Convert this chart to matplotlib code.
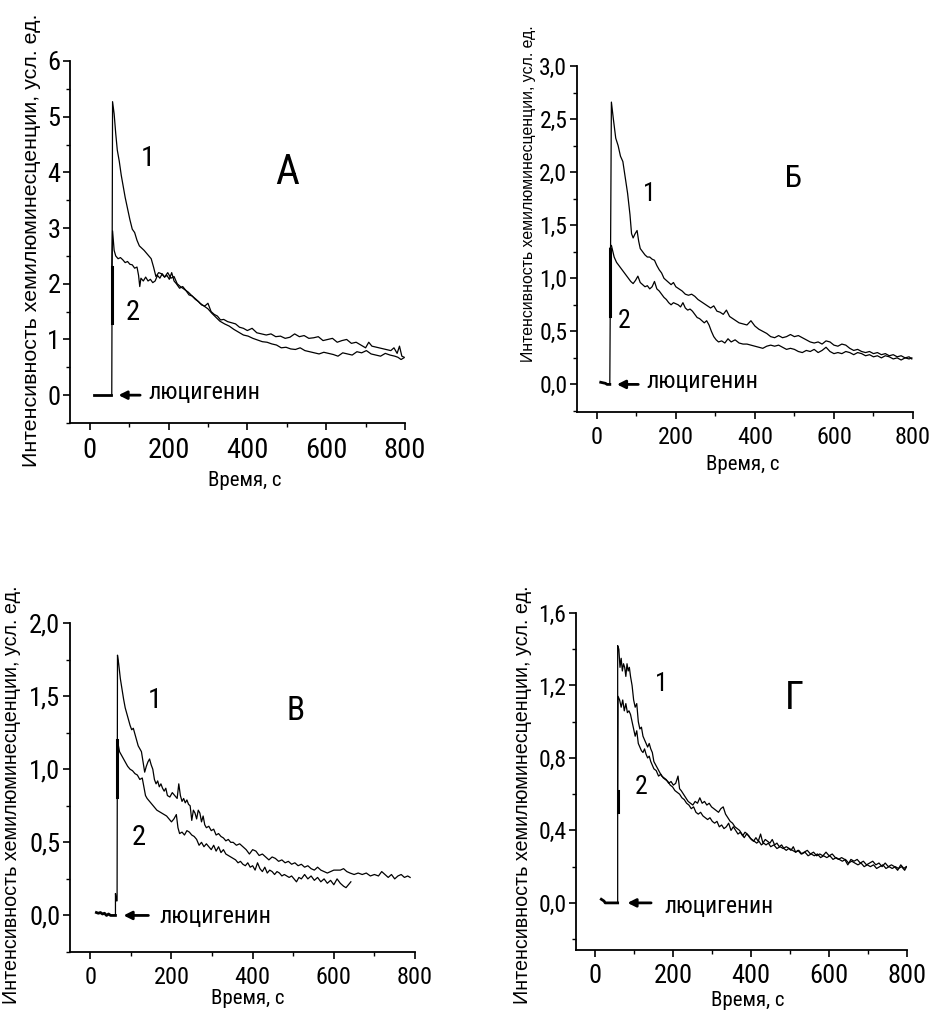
import numpy as np
import matplotlib.pyplot as plt
from matplotlib.ticker import MultipleLocator

NARROW = ['Roboto Condensed', 'PT Sans Narrow', 'DejaVu Sans']
WIDE = ['Liberation Sans', 'DejaVu Sans']

ylabel_text = 'Интенсивность хемилюминесценции, усл. ед.'
xlabel_text = 'Время, с'
arrow_text = 'люцигенин'
panel_letters = ['А', 'Б', 'В', 'Г']

# ---- panel A ----
base_A = [(11, 0.0), (30, 0.0), (53, 0.0)]
curve1_A = [(56, 0), (58, 5.27), (62, 5.05), (66, 4.7), (70, 4.4), (75, 4.2), (80, 3.95), (85, 3.75), (90, 3.55),
            (96, 3.35), (102, 3.15), (108, 2.98), (114, 2.92), (120, 2.78), (126, 2.68), (132, 2.64), (138, 2.6),
            (144, 2.55), (150, 2.5), (156, 2.45), (162, 2.3), (168, 2.13), (175, 2.2), (182, 2.18), (190, 2.12),
            (198, 2.2), (206, 2.1), (214, 2.13), (222, 2.0), (230, 1.95), (240, 1.9), (250, 1.85), (260, 1.78),
            (270, 1.72), (280, 1.65), (290, 1.6), (300, 1.55), (310, 1.47), (320, 1.4), (330, 1.33), (342, 1.28),
            (354, 1.24), (366, 1.18), (378, 1.13), (390, 1.08), (402, 1.06), (414, 1.02), (426, 0.99), (438, 0.96),
            (450, 0.95), (462, 0.92), (474, 0.9), (486, 0.85), (498, 0.86), (510, 0.83), (522, 0.82), (534, 0.85),
            (546, 0.8), (558, 0.78), (570, 0.76), (582, 0.74), (594, 0.77), (606, 0.75), (618, 0.73), (630, 0.7),
            (642, 0.76), (654, 0.74), (666, 0.72), (678, 0.78), (690, 0.76), (702, 0.8), (714, 0.74), (726, 0.72),
            (738, 0.7), (750, 0.75), (762, 0.72), (774, 0.7), (782, 0.68), (790, 0.64), (797, 0.67)]
curve2_A = [(56, 1.3), (56, 2.3), (58, 2.95), (62, 2.6), (66, 2.5), (72, 2.45), (78, 2.47), (84, 2.43), (90, 2.38),
            (96, 2.4), (102, 2.35), (108, 2.34), (114, 2.28), (120, 2.3), (124, 2.15), (127, 1.95), (130, 2.1),
            (136, 2.05), (142, 2.12), (148, 2.05), (154, 2.08), (160, 2.02), (166, 2.05), (172, 2.15), (178, 2.1),
            (184, 2.18), (190, 2.12), (196, 2.15), (202, 2.08), (208, 2.2), (214, 2.05), (220, 2.0), (228, 1.92),
            (236, 1.95), (244, 1.88), (252, 1.8), (260, 1.78), (268, 1.72), (276, 1.68), (284, 1.62), (292, 1.6),
            (300, 1.65), (308, 1.5), (316, 1.45), (324, 1.42), (332, 1.35), (340, 1.36), (350, 1.32), (360, 1.3),
            (370, 1.28), (380, 1.22), (390, 1.2), (400, 1.16), (412, 1.2), (424, 1.12), (436, 1.1), (448, 1.08),
            (460, 1.1), (472, 1.05), (484, 1.06), (496, 1.02), (508, 1.04), (520, 1.1), (532, 1.05), (544, 1.07),
            (556, 1.02), (568, 1.03), (580, 1.05), (592, 0.98), (604, 1.0), (616, 1.02), (628, 0.95), (640, 0.98),
            (652, 1.0), (664, 0.93), (676, 0.95), (688, 0.9), (700, 0.85), (708, 0.95), (716, 0.88), (728, 0.86),
            (740, 0.84), (752, 0.82), (764, 0.8), (772, 0.85), (780, 0.75), (786, 0.88), (792, 0.7), (798, 0.68)]

# ---- panel B ----
base_B = [(10, 0.02), (22, 0.01), (26, 0.0), (33, 0.0)]
curve1_B = [(33, 0), (37, 2.66), (42, 2.5), (48, 2.32), (54, 2.25), (60, 2.15), (66, 2.1), (72, 1.95), (78, 1.8),
            (84, 1.6), (88, 1.42), (92, 1.38), (97, 1.42), (102, 1.45), (106, 1.35), (110, 1.28), (116, 1.25),
            (122, 1.22), (128, 1.2), (134, 1.2), (140, 1.18), (146, 1.17), (152, 1.12), (158, 1.08), (164, 1.05),
            (170, 1.0), (176, 0.98), (182, 0.96), (188, 0.94), (194, 0.96), (200, 0.92), (208, 0.9), (216, 0.88),
            (224, 0.85), (232, 0.84), (240, 0.85), (248, 0.83), (256, 0.8), (264, 0.78), (272, 0.76), (280, 0.74),
            (288, 0.72), (296, 0.74), (304, 0.69), (312, 0.68), (320, 0.66), (328, 0.7), (336, 0.64), (344, 0.62),
            (352, 0.6), (360, 0.58), (370, 0.57), (380, 0.56), (390, 0.6), (400, 0.55), (410, 0.52), (420, 0.5),
            (430, 0.48), (440, 0.45), (450, 0.44), (460, 0.46), (470, 0.44), (480, 0.45), (490, 0.47), (500, 0.45),
            (510, 0.46), (520, 0.44), (530, 0.42), (540, 0.4), (550, 0.39), (560, 0.4), (570, 0.38), (580, 0.41),
            (590, 0.4), (600, 0.37), (610, 0.36), (620, 0.38), (630, 0.37), (640, 0.34), (650, 0.32), (660, 0.33),
            (670, 0.31), (680, 0.3), (690, 0.31), (700, 0.29), (710, 0.3), (720, 0.28), (730, 0.29), (740, 0.27),
            (750, 0.28), (760, 0.26), (770, 0.27), (780, 0.25), (790, 0.26), (797, 0.24)]
curve2_B = [(33, 0.64), (33, 1.28), (37, 1.31), (44, 1.2), (50, 1.15), (56, 1.12), (62, 1.09), (68, 1.06), (74, 1.03),
            (80, 1.0), (86, 0.97), (92, 0.95), (98, 0.98), (104, 1.02), (110, 0.96), (116, 0.94), (122, 0.92),
            (128, 0.93), (134, 0.9), (140, 0.92), (146, 0.97), (152, 0.9), (158, 0.88), (164, 0.85), (170, 0.82),
            (176, 0.8), (182, 0.77), (188, 0.75), (194, 0.77), (200, 0.76), (206, 0.75), (212, 0.73), (218, 0.77),
            (224, 0.72), (230, 0.7), (236, 0.71), (242, 0.69), (248, 0.66), (254, 0.63), (260, 0.62), (266, 0.6),
            (272, 0.58), (278, 0.6), (284, 0.56), (290, 0.5), (296, 0.45), (302, 0.42), (308, 0.4), (316, 0.41),
            (324, 0.39), (332, 0.43), (340, 0.4), (350, 0.42), (360, 0.39), (370, 0.38), (380, 0.38), (390, 0.37),
            (400, 0.36), (410, 0.35), (420, 0.34), (430, 0.36), (440, 0.37), (450, 0.36), (460, 0.37), (470, 0.35),
            (480, 0.33), (490, 0.34), (500, 0.33), (510, 0.31), (520, 0.3), (530, 0.32), (540, 0.31), (550, 0.33),
            (560, 0.3), (570, 0.32), (580, 0.35), (590, 0.31), (600, 0.29), (610, 0.3), (620, 0.29), (630, 0.31),
            (640, 0.3), (650, 0.28), (660, 0.3), (670, 0.29), (680, 0.27), (690, 0.28), (700, 0.26), (710, 0.27),
            (720, 0.25), (730, 0.27), (740, 0.26), (750, 0.24), (760, 0.25), (770, 0.23), (780, 0.25), (790, 0.24),
            (797, 0.25)]

# ---- panel V ----
base_V = [(15, 0.02), (20, 0.015), (25, 0.02), (30, 0.01), (35, 0.015), (40, 0.0), (45, 0.01), (50, 0.0), (62, 0.0)]
curve1_V = [(62, 0.0), (62, 0.15), (64, 0.1), (66, 0.1), (67, 1.78), (70, 1.72), (74, 1.62), (78, 1.55), (82, 1.48),
            (86, 1.42), (90, 1.38), (94, 1.34), (98, 1.3), (102, 1.27), (106, 1.28), (110, 1.24), (114, 1.2),
            (118, 1.16), (122, 1.14), (126, 1.12), (130, 1.05), (134, 0.98), (138, 1.02), (142, 1.05), (146, 1.07),
            (150, 1.03), (154, 1.0), (158, 0.93), (162, 0.9), (166, 0.92), (170, 0.88), (174, 0.9), (178, 0.87),
            (182, 0.85), (186, 0.87), (190, 0.82), (196, 0.81), (202, 0.84), (208, 0.82), (214, 0.8), (218, 0.9),
            (222, 0.82), (226, 0.78), (230, 0.8), (234, 0.77), (238, 0.79), (242, 0.76), (246, 0.75), (250, 0.65),
            (254, 0.72), (258, 0.7), (262, 0.66), (266, 0.72), (270, 0.7), (274, 0.64), (278, 0.68), (282, 0.62),
            (286, 0.6), (292, 0.61), (298, 0.58), (304, 0.59), (310, 0.55), (316, 0.56), (322, 0.54), (328, 0.53),
            (334, 0.51), (340, 0.52), (346, 0.5), (352, 0.5), (360, 0.48), (368, 0.49), (376, 0.47), (384, 0.45),
            (392, 0.42), (400, 0.45), (408, 0.44), (416, 0.41), (424, 0.42), (432, 0.4), (440, 0.38), (448, 0.4),
            (456, 0.39), (464, 0.37), (472, 0.38), (480, 0.36), (488, 0.37), (496, 0.35), (504, 0.36), (512, 0.34),
            (520, 0.35), (528, 0.33), (536, 0.34), (544, 0.32), (552, 0.31), (560, 0.33), (568, 0.31), (576, 0.3),
            (584, 0.29), (592, 0.3), (600, 0.31), (608, 0.31), (616, 0.31), (624, 0.32), (632, 0.3), (640, 0.29),
            (650, 0.28), (660, 0.29), (670, 0.28), (680, 0.29), (690, 0.27), (700, 0.28), (710, 0.27), (718, 0.3),
            (726, 0.28), (734, 0.26), (742, 0.28), (750, 0.25), (758, 0.27), (766, 0.28), (774, 0.26), (782, 0.27),
            (788, 0.26)]
curve2_V = [(66, 0.81), (66, 1.2), (68, 1.18), (72, 1.12), (76, 1.1), (80, 1.08), (86, 1.05), (92, 1.02), (98, 1.0),
            (104, 0.99), (110, 0.97), (116, 0.96), (122, 0.93), (128, 0.94), (132, 0.88), (136, 0.82), (140, 0.8),
            (146, 0.78), (152, 0.76), (158, 0.74), (164, 0.72), (170, 0.71), (176, 0.7), (182, 0.69), (188, 0.68),
            (194, 0.66), (200, 0.64), (206, 0.66), (212, 0.69), (216, 0.6), (220, 0.56), (226, 0.57), (232, 0.55),
            (238, 0.58), (244, 0.57), (250, 0.55), (256, 0.54), (262, 0.52), (268, 0.48), (274, 0.5), (280, 0.47),
            (286, 0.49), (292, 0.47), (298, 0.45), (304, 0.48), (310, 0.44), (316, 0.47), (322, 0.43), (328, 0.45),
            (334, 0.42), (340, 0.41), (346, 0.4), (352, 0.39), (358, 0.38), (364, 0.36), (370, 0.37), (376, 0.35),
            (382, 0.34), (388, 0.36), (394, 0.33), (400, 0.34), (406, 0.31), (412, 0.36), (418, 0.32), (424, 0.3),
            (430, 0.33), (436, 0.29), (442, 0.31), (448, 0.3), (454, 0.28), (460, 0.3), (466, 0.29), (472, 0.27),
            (478, 0.28), (484, 0.27), (490, 0.26), (496, 0.27), (502, 0.25), (508, 0.23), (514, 0.26), (520, 0.25),
            (528, 0.28), (536, 0.25), (544, 0.27), (552, 0.24), (560, 0.26), (568, 0.23), (576, 0.25), (584, 0.22),
            (592, 0.24), (600, 0.21), (608, 0.25), (616, 0.22), (624, 0.2), (630, 0.19), (636, 0.21), (642, 0.23)]

# ---- panel G ----
base_G = [(15, 0.02), (22, 0.01), (25, 0.0), (57, 0.0)]
curve1_G = [(57, 0), (57, 1.42), (60, 1.4), (63, 1.3), (66, 1.35), (69, 1.28), (72, 1.32), (75, 1.3), (78, 1.25),
            (81, 1.32), (84, 1.28), (87, 1.3), (90, 1.25), (94, 1.2), (98, 1.12), (102, 1.08), (106, 1.1), (110, 1.0),
            (114, 0.96), (118, 0.97), (122, 0.92), (126, 0.9), (130, 0.88), (134, 0.86), (138, 0.88), (142, 0.85),
            (146, 0.83), (150, 0.78), (155, 0.76), (160, 0.74), (165, 0.72), (170, 0.7), (176, 0.69), (182, 0.68),
            (188, 0.66), (194, 0.67), (200, 0.65), (206, 0.66), (212, 0.7), (216, 0.63), (220, 0.62), (226, 0.6),
            (232, 0.58), (238, 0.56), (244, 0.55), (250, 0.54), (256, 0.56), (262, 0.55), (268, 0.58), (274, 0.55),
            (280, 0.56), (286, 0.54), (292, 0.55), (298, 0.53), (304, 0.52), (310, 0.51), (316, 0.5), (322, 0.52),
            (328, 0.53), (334, 0.49), (340, 0.47), (346, 0.45), (352, 0.44), (358, 0.42), (364, 0.41), (370, 0.4),
            (376, 0.38), (382, 0.36), (388, 0.38), (394, 0.37), (400, 0.35), (406, 0.34), (412, 0.36), (418, 0.34),
            (424, 0.38), (430, 0.33), (436, 0.35), (442, 0.34), (448, 0.33), (454, 0.35), (460, 0.32), (466, 0.33),
            (472, 0.31), (478, 0.32), (484, 0.3), (490, 0.29), (496, 0.3), (502, 0.29), (508, 0.31), (514, 0.28),
            (520, 0.29), (528, 0.27), (536, 0.28), (544, 0.29), (552, 0.27), (560, 0.28), (568, 0.26), (576, 0.27),
            (584, 0.26), (592, 0.28), (600, 0.26), (608, 0.27), (616, 0.25), (624, 0.24), (632, 0.25), (640, 0.24),
            (648, 0.21), (656, 0.24), (664, 0.23), (672, 0.24), (680, 0.22), (688, 0.23), (696, 0.21), (704, 0.22),
            (712, 0.23), (720, 0.21), (728, 0.22), (736, 0.2), (744, 0.22), (752, 0.2), (760, 0.21), (768, 0.2),
            (776, 0.18), (784, 0.21), (792, 0.19), (798, 0.2)]
curve2_G = [(57, 0.5), (57, 0.62), (58, 1.14), (62, 1.12), (66, 1.08), (70, 1.12), (74, 1.06), (78, 1.1), (82, 1.05),
            (86, 1.06), (90, 1.04), (94, 1.0), (98, 0.96), (102, 0.92), (106, 0.95), (110, 0.88), (114, 0.86),
            (118, 0.84), (122, 0.83), (126, 0.85), (130, 0.82), (134, 0.8), (138, 0.81), (142, 0.78), (146, 0.76),
            (150, 0.74), (156, 0.73), (162, 0.7), (168, 0.71), (174, 0.69), (180, 0.68), (186, 0.67), (192, 0.65),
            (198, 0.64), (204, 0.62), (210, 0.61), (216, 0.6), (222, 0.58), (228, 0.57), (234, 0.55), (240, 0.54),
            (246, 0.52), (252, 0.53), (258, 0.5), (264, 0.49), (270, 0.5), (276, 0.48), (282, 0.47), (288, 0.46),
            (294, 0.47), (300, 0.45), (306, 0.44), (312, 0.45), (318, 0.42), (324, 0.43), (330, 0.41), (336, 0.42),
            (342, 0.44), (348, 0.4), (354, 0.42), (360, 0.4), (366, 0.38), (372, 0.39), (378, 0.37), (384, 0.39),
            (390, 0.38), (396, 0.36), (402, 0.35), (408, 0.34), (414, 0.33), (420, 0.34), (426, 0.32), (432, 0.33),
            (438, 0.32), (444, 0.33), (450, 0.31), (458, 0.32), (466, 0.3), (474, 0.31), (482, 0.3), (490, 0.31),
            (498, 0.3), (506, 0.29), (514, 0.28), (522, 0.29), (530, 0.27), (538, 0.28), (546, 0.26), (554, 0.27),
            (562, 0.26), (570, 0.27), (578, 0.25), (586, 0.26), (594, 0.25), (602, 0.26), (610, 0.24), (618, 0.25),
            (626, 0.24), (634, 0.23), (642, 0.24), (650, 0.22), (658, 0.23), (666, 0.22), (674, 0.21), (682, 0.22),
            (690, 0.2), (698, 0.21), (706, 0.2), (714, 0.21), (722, 0.19), (730, 0.2), (738, 0.21), (746, 0.19),
            (754, 0.2), (762, 0.19), (770, 0.2), (778, 0.19), (786, 0.2), (794, 0.18), (799, 0.2)]

yticks_A = [0, 1, 2, 3, 4, 5, 6]
ylabels_A = ['0', '1', '2', '3', '4', '5', '6']
yticks_B = [0.0, 0.5, 1.0, 1.5, 2.0, 2.5, 3.0]
ylabels_B = ['0,0', '0,5', '1,0', '1,5', '2,0', '2,5', '3,0']
yticks_V = [0.0, 0.5, 1.0, 1.5, 2.0]
ylabels_V = ['0,0', '0,5', '1,0', '1,5', '2,0']
yticks_G = [0.0, 0.4, 0.8, 1.2, 1.6]
ylabels_G = ['0,0', '0,4', '0,8', '1,2', '1,6']
xticks = [0, 200, 400, 600, 800]


def draw_panel(rect, base, c1, c2, yticks, ylabels, ylim, minor, letter, sizes, spots, ylab_xy, xlab_xy):
    ax = fig.add_axes(rect)
    b = np.array(base)
    a1 = np.array(c1)
    a2 = np.array(c2)
    ax.plot(b[:, 0], b[:, 1], color='black', lw=2.0)
    ax.plot(a1[:, 0], a1[:, 1], color='black', lw=0.9)
    ax.plot(a2[:, 0], a2[:, 1], color='black', lw=0.9)
    ax.plot(a2[:2, 0], a2[:2, 1], color='black', lw=2.2)

    ax.set_xlim(-50, 800)
    ax.set_ylim(*ylim)
    ax.set_xticks(xticks)
    ax.set_xticklabels([str(t) for t in xticks], family=NARROW, fontsize=sizes[0])
    ax.set_yticks(yticks)
    ax.set_yticklabels(ylabels, family=NARROW, fontsize=sizes[1])
    ax.xaxis.set_minor_locator(MultipleLocator(100))
    ax.yaxis.set_minor_locator(MultipleLocator(minor))
    ax.tick_params(which='major', direction='out', length=5, width=1.2, pad=2)
    ax.tick_params(which='minor', direction='out', length=3, width=1.0)
    ax.tick_params(axis='x', which='major', pad=5)
    for s in ['top', 'right']:
        ax.spines[s].set_visible(False)
    for s in ['left', 'bottom']:
        ax.spines[s].set_linewidth(1.3)

    # arrow + label
    ax.annotate('', xy=(spots['arrow'][0], 0), xytext=(spots['arrow'][1], 0),
                arrowprops=dict(arrowstyle='-|>', color='black', lw=2, mutation_scale=12))
    ax.text(spots['text'][0], spots['text'][1], arrow_text, family=NARROW, fontsize=sizes[2],
            ha='left', va='center')
    ax.text(*spots['letter'], letter, family=NARROW, fontsize=sizes[3], ha='center', va='center')
    ax.text(*spots['one'], '1', family=NARROW, fontsize=sizes[4], ha='center', va='center')
    ax.text(*spots['two'], '2', family=NARROW, fontsize=sizes[4], ha='center', va='center')

    fig.text(ylab_xy[0] / 932, 1 - ylab_xy[1] / 1010, ylabel_text, rotation=90, family=WIDE,
             fontsize=sizes[5], ha='center', va='center')
    fig.text(xlab_xy[0] / 932, 1 - xlab_xy[1] / 1010, xlabel_text, family=NARROW,
             fontsize=sizes[6], ha='center', va='center')
    return ax


fig = plt.figure(figsize=(9.32, 10.10), dpi=100)

# sizes: xtick, ytick, arrow text, letter, curve numbers, ylabel, xlabel
draw_panel([70 / 932, 1 - 423 / 1010, 335 / 932, 362 / 1010], base_A, curve1_A, curve2_A,
           yticks_A, ylabels_A, (-0.5, 6), 0.5, 'А', (20.5, 19, 17.5, 30, 20.5, 15.4, 15),
           {'arrow': (66, 135), 'text': (148, 0.05), 'letter': (500, 4.0),
            'one': (148, 4.25), 'two': (108, 1.49)},
           (32, 240), (245, 480))

draw_panel([577 / 932, 1 - 412 / 1010, 336 / 932, 346 / 1010], base_B, curve1_B, curve2_B,
           yticks_B, ylabels_B, (-0.26, 3.0), 0.25, 'Б', (17.5, 17, 17.5, 22, 18.5, 11.4, 15),
           {'arrow': (44, 112), 'text': (125, 0.03), 'letter': (498, 1.94),
            'one': (133, 1.79), 'two': (69, 0.6)},
           (529, 194), (743, 465))

draw_panel([70 / 932, 1 - 952 / 1010, 345 / 932, 329 / 1010], base_V, curve1_V, curve2_V,
           yticks_V, ylabels_V, (-0.25, 2.0), 0.25, 'В', (17.5, 19, 17.5, 24, 20.5, 14.2, 15),
           {'arrow': (75, 150), 'text': (170, -0.01), 'letter': (506, 1.4),
            'one': (159, 1.47), 'two': (119, 0.53)},
           (12, 795), (248, 998))

draw_panel([576 / 932, 1 - 950 / 1010, 331 / 932, 337 / 1010], base_G, curve1_G, curve2_G,
           yticks_G, ylabels_G, (-0.26, 1.6), 0.2, 'Г', (19, 17, 17, 28, 18.5, 14.2, 15),
           {'arrow': (75, 150), 'text': (178, -0.02), 'letter': (512, 1.13),
            'one': (170, 1.21), 'two': (118, 0.64)},
           (523, 795), (748, 1000))

fig.savefig('out.png', dpi=100, facecolor='white')
